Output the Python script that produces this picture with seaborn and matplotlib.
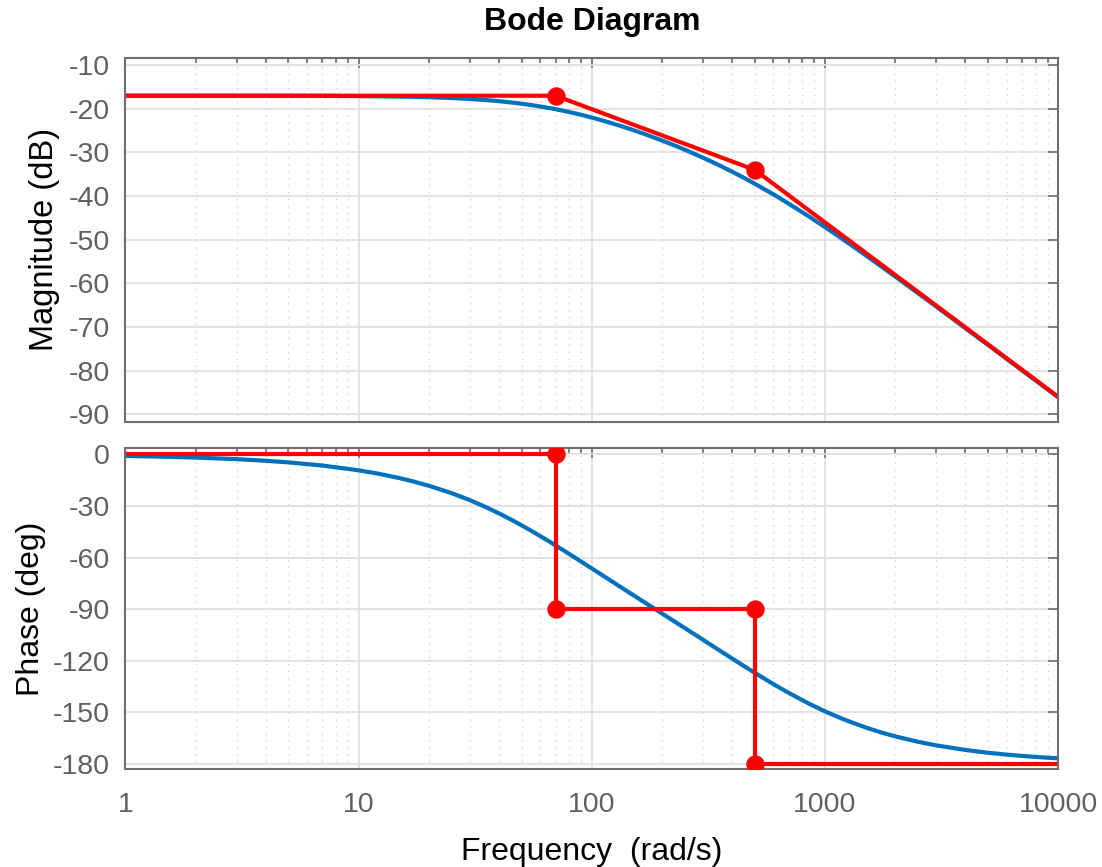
import numpy as np
import pandas as pd
import matplotlib
matplotlib.use("Agg")
import matplotlib.pyplot as plt
import matplotlib.ticker as mticker
import seaborn as sns

# frequency response (rad/s, dB, deg)
freq = [1, 1.5, 2, 3, 4, 5, 7, 10, 12, 15, 17, 20, 25, 30, 35, 40, 45, 50, 55, 60,
        65, 70, 77, 85, 92, 100, 110, 120, 135, 150, 170, 200, 225, 250, 300, 350,
        400, 450, 500, 600, 700, 850, 1000, 1200, 1500, 1750, 2000, 2500, 3000,
        4000, 5000, 6000, 7000, 8500, 10000]
mag_db = [-17.00, -17.00, -17.00, -17.01, -17.01, -17.02, -17.04, -17.09, -17.13,
          -17.20, -17.25, -17.35, -17.53, -17.75, -17.99, -18.25, -18.54, -18.83,
          -19.14, -19.46, -19.77, -20.09, -20.55, -21.06, -21.50, -22.00, -22.61,
          -23.20, -24.04, -24.85, -25.86, -27.27, -28.34, -29.35, -31.21, -32.88,
          -34.42, -35.84, -37.17, -39.59, -41.76, -44.62, -47.11, -50.00, -53.63,
          -56.19, -58.43, -62.21, -65.33, -70.27, -74.12, -77.28, -79.95, -83.31,
          -86.13]
phase_deg = [-0.93, -1.40, -1.87, -2.80, -3.73, -4.66, -6.51, -9.28, -11.10, -13.81,
             -15.60, -18.24, -22.51, -26.63, -30.57, -34.32, -37.88, -41.25, -44.43,
             -47.44, -50.29, -52.97, -56.48, -60.18, -63.16, -66.32, -69.94, -73.24,
             -77.70, -81.68, -86.40, -92.51, -96.95, -100.93, -107.83, -113.68,
             -118.73, -123.15, -127.03, -133.54, -138.75, -144.82, -149.43, -154.04,
             -158.89, -161.76, -163.96, -167.09, -169.20, -171.87, -173.49, -174.57,
             -175.34, -176.16, -176.74]

# asymptotes
asym_mag_w = [1, 70, 500, 10000]
asym_mag_db = [-17, -17, -34, -86]
asym_ph_w = [1, 70, 70, 500, 500, 10000]
asym_ph_deg = [0, 0, -90, -90, -180, -180]
brk_mag_w = [70, 500]
brk_mag_db = [-17, -34]
brk_ph_w = [70, 70, 500, 500]
brk_ph_deg = [0, -90, -90, -180]

xticks = [1, 10, 100, 1000, 10000]
xtick_labels = ["1", "10", "100", "1000", "10000"]
mag_ticks = [-10, -20, -30, -40, -50, -60, -70, -80, -90]
ph_ticks = [0, -30, -60, -90, -120, -150, -180]

sns.set_style("white")
plt.rcParams["font.family"] = ["Liberation Sans", "DejaVu Sans"]
plt.rcParams["axes.unicode_minus"] = False

BLUE = "#0072BD"
RED = "#FF0000"
AXC = "#6e6e6e"
TXT = "#606060"

fig = plt.figure(figsize=(11.02, 8.67), dpi=100)
ax1 = fig.add_axes([0.1137, 0.5136, 0.8466, 0.4198])
ax2 = fig.add_axes([0.1137, 0.1127, 0.8466, 0.3702])

df = pd.DataFrame({"w": freq, "mag": mag_db, "ph": phase_deg})

sns.lineplot(data=df, x="w", y="mag", ax=ax1, color=BLUE, lw=3, estimator=None)
sns.lineplot(x=asym_mag_w, y=asym_mag_db, ax=ax1, color=RED, lw=3,
             sort=False, estimator=None)
sns.scatterplot(x=brk_mag_w, y=brk_mag_db, ax=ax1, color=RED, s=150,
                edgecolor=RED, zorder=5)

sns.lineplot(data=df, x="w", y="ph", ax=ax2, color=BLUE, lw=3, estimator=None)
sns.lineplot(x=asym_ph_w, y=asym_ph_deg, ax=ax2, color=RED, lw=3,
             sort=False, estimator=None)
sns.scatterplot(x=brk_ph_w, y=brk_ph_deg, ax=ax2, color=RED, s=150,
                edgecolor=RED, zorder=5)

for ax in (ax1, ax2):
    ax.set_xscale("log")
    ax.set_xlim(1, 10000)
    ax.set_xticks(xticks)
    ax.xaxis.set_minor_locator(mticker.LogLocator(base=10, subs=np.arange(2, 10), numticks=20))
    ax.xaxis.set_minor_formatter(mticker.NullFormatter())
    ax.grid(True, which="major", color="#dedede", lw=1.2, ls="-")
    ax.grid(True, which="minor", axis="x", color="#d2d2d2", lw=1.0, ls=(0, (1, 4)))
    ax.set_axisbelow(True)
    ax.tick_params(which="both", direction="in", top=True, right=True,
                   color=AXC, labelcolor=TXT, labelsize=20.5, width=1.2)
    ax.tick_params(which="major", length=7)
    ax.tick_params(which="minor", length=3.5)
    ax.tick_params(axis="y", pad=11)
    for sp in ax.spines.values():
        sp.set_color(AXC)
        sp.set_linewidth(1.5)
    ax.set_xlabel("")

ax1.set_ylim(-91.7, -8.3)
ax1.set_yticks(mag_ticks)
ax1.set_xticklabels([])
ax1.set_ylabel("Magnitude (dB)", fontsize=23.5, color="black", labelpad=6)
ax1.set_title("Bode Diagram", fontsize=23, fontweight="bold", color="black", pad=20)

ax2.set_ylim(-183.1, 3.5)
ax2.set_yticks(ph_ticks)
ax2.set_xticklabels(xtick_labels)
ax2.tick_params(axis="x", pad=16)
ax2.set_ylabel("Phase (deg)", fontsize=23, color="black", labelpad=5)
ax2.set_xlabel("Frequency  (rad/s)", fontsize=23, color="black", labelpad=14)

fig.savefig("out.png", dpi=100)
